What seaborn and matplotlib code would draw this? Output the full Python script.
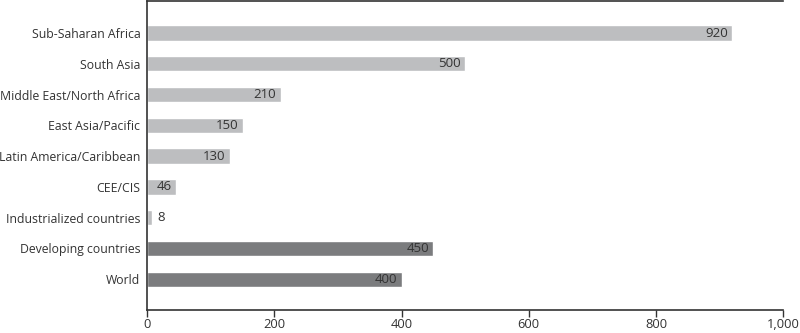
import matplotlib
matplotlib.use("Agg")
import matplotlib.pyplot as plt
import seaborn as sns
import pandas as pd

categories = ["Sub-Saharan Africa", "South Asia", "Middle East/North Africa",
              "East Asia/Pacific", "Latin America/Caribbean", "CEE/CIS",
              "Industrialized countries", "Developing countries", "World"]
values = [920, 500, 210, 150, 130, 46, 8, 450, 400]
groups = ["region"] * 7 + ["aggregate"] * 2
tick_values = [0, 200, 400, 600, 800, 1000]
tick_labels = ["0", "200", "400", "600", "800", "1,000"]

sns.set_theme(style="white")
plt.rcParams["font.family"] = ["Open Sans", "DejaVu Sans"]

df = pd.DataFrame({"category": categories, "value": values, "group": groups})
palette = {"region": "#bdbec0", "aggregate": "#7b7c7e"}

fig, ax = plt.subplots(figsize=(8, 3.33), dpi=100)
fig.subplots_adjust(left=0.184, right=0.979, top=0.997, bottom=0.069)

sns.barplot(data=df, y="category", x="value", hue="group", palette=palette,
            dodge=False, legend=False, width=0.5, ax=ax, saturation=1)

for i, v in enumerate(values):
    if v < 20:
        ax.text(v + 8, i, f"{v}", va="center", ha="left", fontsize=9.5, color="#333333")
    else:
        ax.text(v - 7, i, f"{v}", va="center", ha="right", fontsize=9.5, color="#333333")

ax.set_xlim(0, 1000)
ax.set_ylim(9.0, -1.04)
ax.set_xticks(tick_values)
ax.set_xticklabels(tick_labels)
ax.set_xlabel("")
ax.set_ylabel("")
ax.tick_params(axis="x", which="both", bottom=True, length=5, width=1, color="#333333",
               labelsize=9.3, labelcolor="#333333", pad=1)
ax.tick_params(axis="y", left=False, length=0, labelsize=8.8, labelcolor="#333333", pad=5)
for s in ["left", "bottom", "top"]:
    ax.spines[s].set_visible(True)
    ax.spines[s].set_color("#333333")
    ax.spines[s].set_linewidth(1.2)
ax.spines["right"].set_visible(False)

fig.savefig("out.png", dpi=100)
